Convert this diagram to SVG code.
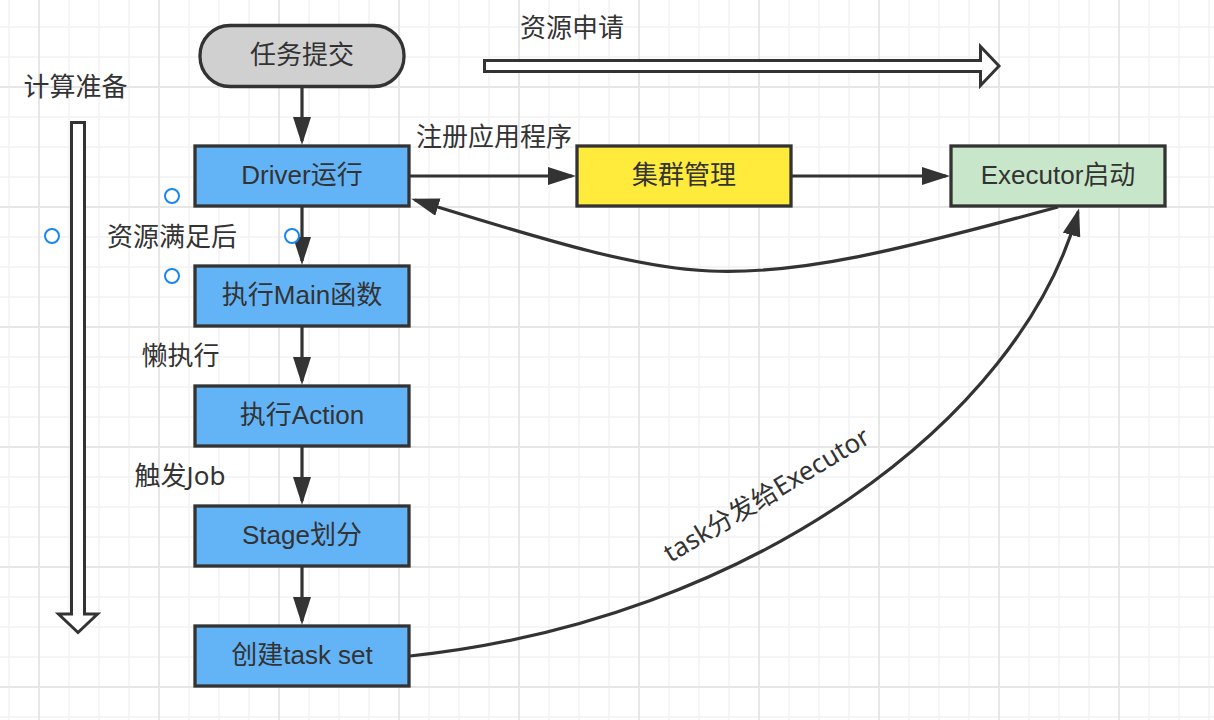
<svg xmlns="http://www.w3.org/2000/svg" width="1214" height="720" viewBox="0 0 1214 720">
  <style>
    .node rect { stroke: #333333; stroke-width: 3.3; }
    .ntext { font-family: "Liberation Sans", "Noto Sans CJK SC", sans-serif; font-size: 26px; fill: #333333; text-anchor: middle; dominant-baseline: central; }
    .label { font-family: "Noto Sans", "Noto Sans CJK SC", sans-serif; font-size: 26px; fill: #333333; text-anchor: middle; dominant-baseline: central; }
    .conn { fill: none; stroke: #333333; stroke-width: 3.2; }
    .big { fill: #ffffff; stroke: #333333; stroke-width: 3; stroke-linejoin: miter; }
    .dot { fill: #ffffff; stroke: #1a86f0; stroke-width: 2; }
  </style>
  <defs>
    <pattern id="minor" patternUnits="userSpaceOnUse" x="-6" y="12" width="30" height="30">
      <path d="M15,0 V30 M0,15 H30" stroke="#f2f2f2" stroke-width="1.5" fill="none"/>
    </pattern>
    <pattern id="major" patternUnits="userSpaceOnUse" x="-21" y="27" width="120" height="120">
      <path d="M60,0 V120 M0,60 H120" stroke="#e6e6e6" stroke-width="2" fill="none"/>
    </pattern>
    <marker id="arr" markerUnits="userSpaceOnUse" viewBox="0 0 28 18" refX="24" refY="9" markerWidth="28" markerHeight="18" orient="auto">
      <path d="M0,0 L28,9 L0,18 Z" fill="#333333"/>
    </marker>
  </defs>

  <rect x="0" y="0" width="1214" height="720" fill="#ffffff"/>
  <rect x="0" y="0" width="1214" height="720" fill="url(#minor)"/>
  <rect x="0" y="0" width="1214" height="720" fill="url(#major)"/>

  <g id="big-arrows">
    <polygon class="big" points="484.5,60.5 980.5,60.5 980.5,46.5 999,66 980.5,85.5 980.5,71.5 484.5,71.5"/>
    <polygon class="big" points="71.5,122.5 84.5,122.5 84.5,614 97.5,614 78,632.5 58.5,614 71.5,614"/>
  </g>

  <g id="connectors">
    <path class="conn" d="M302,87 V141" marker-end="url(#arr)"/>
    <path class="conn" d="M302,207 V261" marker-end="url(#arr)"/>
    <path class="conn" d="M302,327 V381" marker-end="url(#arr)"/>
    <path class="conn" d="M302,447 V501" marker-end="url(#arr)"/>
    <path class="conn" d="M302,567 V621" marker-end="url(#arr)"/>
    <path class="conn" d="M410,176 H572" marker-end="url(#arr)"/>
    <path class="conn" d="M792,176 H946" marker-end="url(#arr)"/>
    <path class="conn" d="M1058,207 C900,250 800,275 710,271 C640,268 560,245 415,200" marker-end="url(#arr)"/>
    <path class="conn" d="M410,656 C750,620 1020,420 1078,212" marker-end="url(#arr)"/>
  </g>

  <g id="node-submit" class="node">
    <rect x="200" y="25.5" width="204" height="61" rx="30" ry="30" fill="#d0d0d0"/>
    <text class="ntext" x="302" y="55">任务提交</text>
  </g>
  <g id="node-driver" class="node">
    <rect x="195" y="146" width="214" height="60" fill="#63b4f6"/>
    <text class="ntext" x="302" y="175">Driver运行</text>
  </g>
  <g id="node-main" class="node">
    <rect x="195" y="266" width="214" height="60" fill="#63b4f6"/>
    <text class="ntext" x="302" y="295">执行Main函数</text>
  </g>
  <g id="node-action" class="node">
    <rect x="195" y="386" width="214" height="60" fill="#63b4f6"/>
    <text class="ntext" x="302" y="415">执行Action</text>
  </g>
  <g id="node-stage" class="node">
    <rect x="195" y="506" width="214" height="60" fill="#63b4f6"/>
    <text class="ntext" x="302" y="535">Stage划分</text>
  </g>
  <g id="node-taskset" class="node">
    <rect x="195" y="626" width="214" height="60" fill="#63b4f6"/>
    <text class="ntext" x="302" y="655">创建task set</text>
  </g>
  <g id="node-cluster" class="node">
    <rect x="577" y="146" width="214" height="60" fill="#ffeb3b"/>
    <text class="ntext" x="684" y="175">集群管理</text>
  </g>
  <g id="node-executor" class="node">
    <rect x="951" y="146" width="214" height="60" fill="#c8e6c9"/>
    <text class="ntext" x="1058" y="175">Executor启动</text>
  </g>

  <g id="labels">
    <text class="label" x="75.5" y="86">计算准备</text>
    <text class="label" x="572" y="27">资源申请</text>
    <text class="label" x="494" y="136">注册应用程序</text>
    <text class="label" x="172" y="236">资源满足后</text>
    <text class="label" x="180.5" y="355">懒执行</text>
    <text class="label" x="180" y="475">触发Job</text>
    <text class="label" transform="translate(766,494) rotate(-31)" x="0" y="0">task分发给Executor</text>
  </g>

  <g id="handles">
    <circle class="dot" cx="172" cy="196" r="7"/>
    <circle class="dot" cx="52" cy="236" r="7"/>
    <circle class="dot" cx="292" cy="236" r="7"/>
    <circle class="dot" cx="172" cy="276" r="7"/>
  </g>
</svg>
